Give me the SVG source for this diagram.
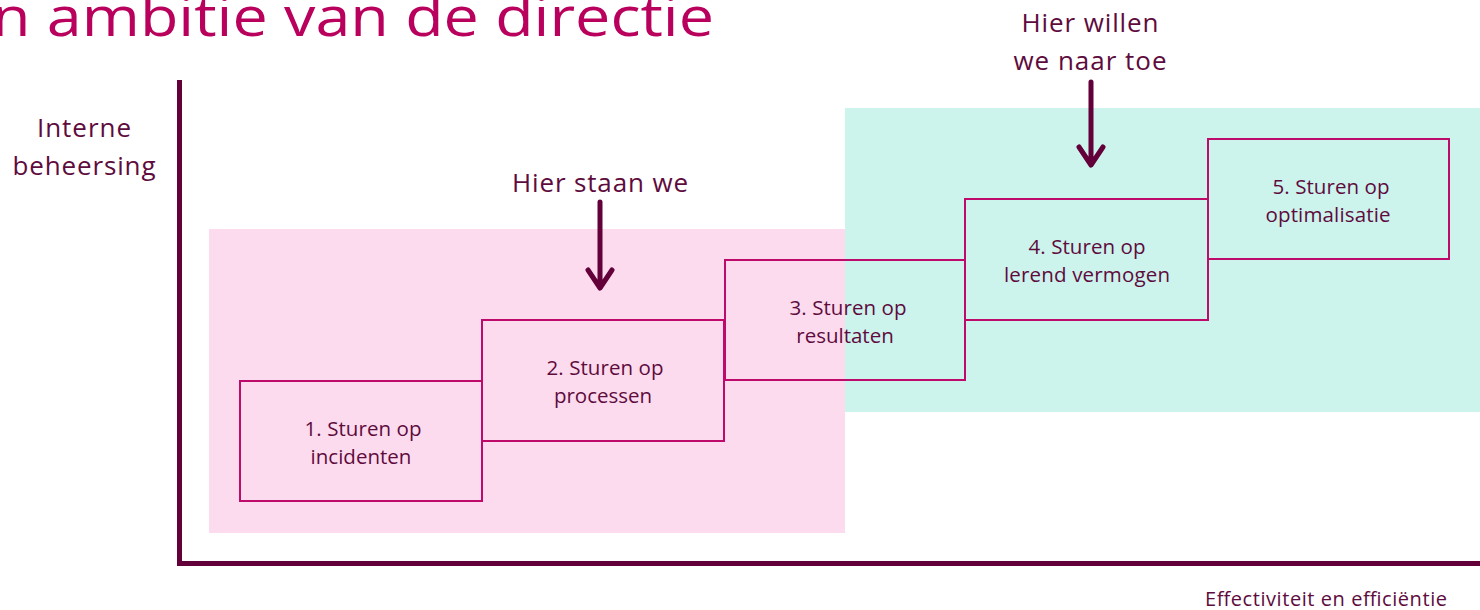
<svg xmlns="http://www.w3.org/2000/svg" width="1480" height="610" viewBox="0 0 1480 610">
<style>
.lbl{font-family:"Open Sans","Noto Sans",sans-serif;fill:#5E0B3D;text-anchor:middle}
.box{fill:none;stroke:#BE0A6A;stroke-width:2}
.ax{stroke:#63003A;stroke-width:5;fill:none}
.arr{stroke:#63003A;stroke-width:5;fill:none;stroke-linecap:round;stroke-linejoin:round}
</style>
<rect width="1480" height="610" fill="#fff"/>
<text x="-8" y="36" font-family="'Open Sans','Noto Sans',sans-serif" font-size="54" fill="#B8005C" textLength="722" lengthAdjust="spacingAndGlyphs">n ambitie van de directie</text>
<g id="zones">
<rect x="209" y="229" width="636" height="304" fill="#FDDBEE"/>
<rect x="845" y="108" width="635" height="304" fill="#CCF3EC"/>
</g>
<g id="axes">
<path class="ax" d="M179.5 80 V563.5 H1480"/>
</g>
<g id="ylabel"><text class="lbl" x="84" y="137" font-size="26" textLength="94">Interne</text><text class="lbl" x="84" y="175" font-size="26" textLength="143">beheersing</text></g>
<g id="xlabel"><text class="lbl" x="1326" y="606" font-size="20" textLength="242">Effectiviteit en efficiëntie</text></g>
<g id="step1"><rect class="box" x="240" y="381" width="242" height="120"/><text class="lbl" x="363" y="436" font-size="20.5" textLength="117">1. Sturen op</text><text class="lbl" x="361" y="464" font-size="20.5">incidenten</text></g>
<g id="step2"><rect class="box" x="482" y="320" width="242" height="121"/><text class="lbl" x="605" y="375" font-size="20.5" textLength="117">2. Sturen op</text><text class="lbl" x="603" y="403" font-size="20.5">processen</text></g>
<g id="step3"><rect class="box" x="725" y="260" width="240" height="120"/><text class="lbl" x="848" y="315" font-size="20.5" textLength="117">3. Sturen op</text><text class="lbl" x="845" y="343" font-size="20.5">resultaten</text></g>
<g id="step4"><rect class="box" x="965" y="199" width="243" height="121"/><text class="lbl" x="1087" y="254" font-size="20.5" textLength="117">4. Sturen op</text><text class="lbl" x="1087" y="282" font-size="20.5" textLength="166">lerend vermogen</text></g>
<g id="step5"><rect class="box" x="1208" y="139" width="241" height="120"/><text class="lbl" x="1331" y="194" font-size="20.5" textLength="117">5. Sturen op</text><text class="lbl" x="1328" y="222" font-size="20.5" textLength="125">optimalisatie</text></g>
<g id="here"><text class="lbl" x="600" y="192" font-size="26" textLength="176">Hier staan we</text></g>
<g id="goal"><text class="lbl" x="1090" y="32" font-size="26" textLength="137">Hier willen</text><text class="lbl" x="1090" y="70" font-size="26" textLength="153">we naar toe</text></g>
<g id="connectors">
<path class="arr" d="M600 202 V287 M588 270 L600 288 L612 270"/>
<path class="arr" d="M1091 82 V164 M1079 147 L1091 165 L1103 147"/>
</g>
</svg>
